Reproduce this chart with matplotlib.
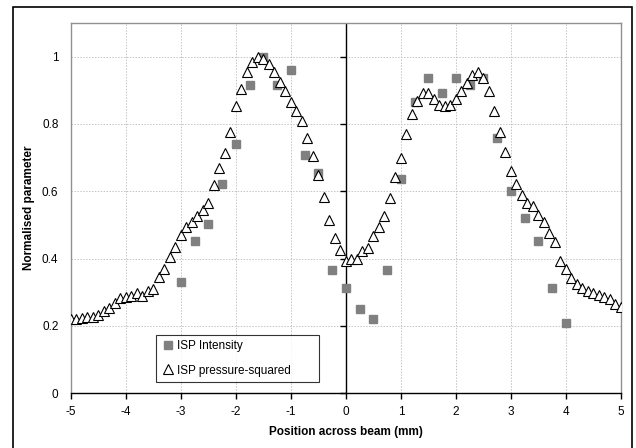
import numpy as np
import matplotlib
matplotlib.use("Agg")
import matplotlib.pyplot as plt
from matplotlib.patches import Rectangle

plt.rcParams["font.family"] = ["Liberation Sans", "DejaVu Sans"]
plt.rcParams["axes.unicode_minus"] = False

# ISP intensity (grey squares)
int_x = [-3.0, -2.75, -2.5, -2.25, -2.0, -1.75, -1.5, -1.25, -1.0, -0.75,
         -0.5, -0.25, 0.0, 0.25, 0.5, 0.75, 1.0, 1.25, 1.5, 1.75, 2.0,
         2.25, 2.5, 2.75, 3.0, 3.25, 3.5, 3.75, 4.0]
int_y = [0.331, 0.453, 0.502, 0.621, 0.74, 0.915, 1.0, 0.915, 0.959, 0.707,
         0.653, 0.365, 0.313, 0.25, 0.22, 0.365, 0.637, 0.865, 0.935, 0.892,
         0.935, 0.915, 0.935, 0.758, 0.60, 0.522, 0.453, 0.313, 0.21]

# ISP pressure-squared (open triangles), every 0.1 mm from -5 to 5
ps_x = np.round(np.arange(-50, 51) * 0.1, 1)
ps_y = [0.220, 0.222, 0.225, 0.227, 0.227, 0.234, 0.244, 0.252, 0.269, 0.284,
        0.287, 0.290, 0.297, 0.290, 0.304, 0.310, 0.344, 0.369, 0.404, 0.435,
        0.470, 0.494, 0.509, 0.526, 0.545, 0.566, 0.618, 0.668, 0.715, 0.776,
        0.853, 0.905, 0.955, 0.984, 1.000, 0.994, 0.979, 0.955, 0.925, 0.898,
        0.865, 0.839, 0.809, 0.758, 0.705, 0.648, 0.582, 0.516, 0.460, 0.425,
        0.392, 0.400, 0.400, 0.423, 0.433, 0.467, 0.493, 0.526, 0.579, 0.641,
        0.700, 0.769, 0.829, 0.868, 0.893, 0.893, 0.873, 0.857, 0.854, 0.857,
        0.873, 0.898, 0.921, 0.945, 0.955, 0.935, 0.898, 0.839, 0.776, 0.717,
        0.660, 0.621, 0.590, 0.564, 0.555, 0.529, 0.509, 0.475, 0.450, 0.394,
        0.368, 0.341, 0.324, 0.312, 0.304, 0.297, 0.292, 0.285, 0.279, 0.264,
        0.257]

xticks = [-5, -4, -3, -2, -1, 0, 1, 2, 3, 4, 5]
yticks = [0, 0.2, 0.4, 0.6, 0.8, 1.0]
ytick_labels = ["0", "0.2", "0.4", "0.6", "0.8", "1"]

fig = plt.figure(figsize=(6.36, 4.48), dpi=100)
ax = fig.add_axes([0.1116, 0.122, 0.8648, 0.827])

# outer chart border
fig.patches.append(Rectangle((0.0204, -0.05), 0.973, 1.034, transform=fig.transFigure,
                             fill=False, edgecolor="black", lw=1.2, zorder=10))

ax.set_xlim(-5, 5)
ax.set_ylim(0, 1.1)
ax.set_xticks(xticks)
ax.set_yticks(yticks)
ax.set_yticklabels(ytick_labels)
ax.grid(True, color="#c4c4c4", linestyle=(0, (1.5, 1.5)), lw=0.7)
ax.set_axisbelow(True)

for s in ["left", "top", "right"]:
    ax.spines[s].set_color("#909090")
    ax.spines[s].set_linewidth(1.0)
ax.spines["bottom"].set_color("black")
ax.spines["bottom"].set_linewidth(1.0)

ax.tick_params(axis="y", length=0, labelsize=8.5, pad=9)
ax.tick_params(axis="x", direction="out", length=4, width=1, labelsize=8.5, pad=5)

# y axis crossing at x = 0 with its tick marks
ax.axvline(0, color="black", lw=1.0, zorder=2)
ax.plot(np.zeros(len(yticks)), yticks, linestyle="", marker=0, markersize=4,
        color="black", markeredgewidth=1.0, zorder=2, clip_on=False)

ax.plot(int_x, int_y, linestyle="", marker="s", markersize=6, color="#808080",
        markeredgecolor="#808080", label="ISP Intensity", zorder=3)
ax.plot(ps_x, ps_y, linestyle="", marker="^", markersize=7.5, markerfacecolor="white",
        markeredgecolor="black", markeredgewidth=0.8, label="ISP pressure-squared",
        zorder=4)

leg = ax.legend(loc="lower left", bbox_to_anchor=(0.144, 0.015, 0.318, 0.126),
                mode="expand", fontsize=8.5, frameon=True, fancybox=False,
                borderpad=0.45, handletextpad=0.1, handlelength=1.2, labelspacing=1.05)
leg.get_frame().set_edgecolor("black")
leg.get_frame().set_linewidth(0.8)

ax.set_xlabel("Position across beam (mm)", fontsize=8.5, fontweight="bold", labelpad=6)
ax.set_ylabel("Normalised parameter", fontsize=8.5, fontweight="bold", labelpad=5)

plt.savefig("out.png", dpi=100)
plt.close()
